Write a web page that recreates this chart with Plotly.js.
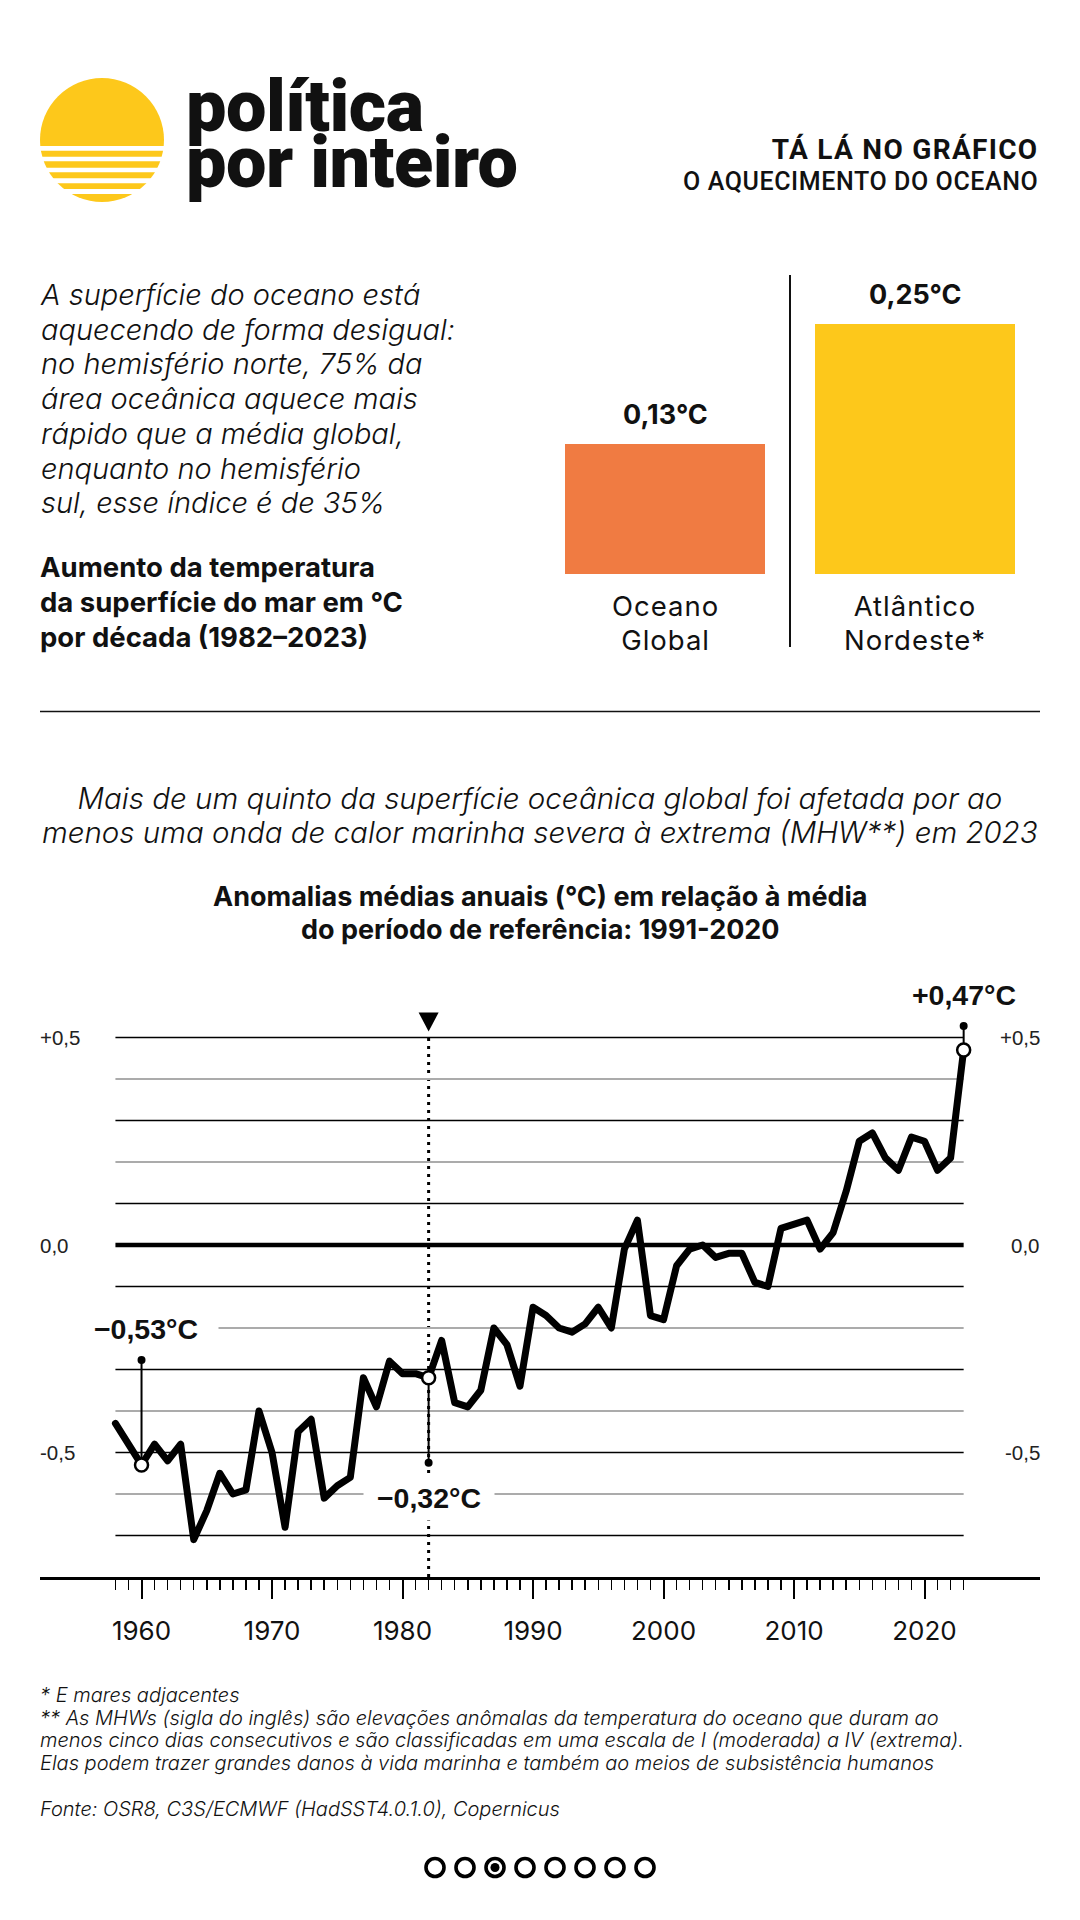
<!DOCTYPE html>
<html>
<head>
<meta charset="utf-8">
<script src="https://cdn.plot.ly/plotly-3.0.1.min.js"></script>
<style>
html,body{margin:0;padding:0;background:#fff;}
#chart{width:1080px;height:1920px;}
#chart .scatterlayer .js-line{stroke-linejoin:round;stroke-linecap:round;}
</style>
</head>
<body>
<div id="chart"></div>
<script>
// ---------------- DATA ----------------
const years = [1958,1959,1960,1961,1962,1963,1964,1965,1966,1967,1968,1969,1970,1971,1972,1973,1974,1975,1976,1977,1978,1979,1980,1981,1982,1983,1984,1985,1986,1987,1988,1989,1990,1991,1992,1993,1994,1995,1996,1997,1998,1999,2000,2001,2002,2003,2004,2005,2006,2007,2008,2009,2010,2011,2012,2013,2014,2015,2016,2017,2018,2019,2020,2021,2022,2023];
const anomalies = [-0.43,-0.48,-0.53,-0.48,-0.52,-0.48,-0.71,-0.64,-0.55,-0.60,-0.59,-0.40,-0.50,-0.68,-0.45,-0.42,-0.61,-0.58,-0.56,-0.32,-0.39,-0.28,-0.31,-0.31,-0.32,-0.23,-0.38,-0.39,-0.35,-0.20,-0.24,-0.34,-0.15,-0.17,-0.20,-0.21,-0.19,-0.15,-0.20,-0.01,0.06,-0.17,-0.18,-0.05,-0.01,0.00,-0.03,-0.02,-0.02,-0.09,-0.10,0.04,0.05,0.06,-0.01,0.03,0.13,0.25,0.27,0.21,0.18,0.26,0.25,0.18,0.21,0.47];

const barCategories = ['Oceano Global', 'Atlântico Nordeste*'];
const barCategoryLines = [['Oceano', 'Global'], ['Atlântico', 'Nordeste*']];
const barValues = [0.13, 0.25];
const barLabels = ['0,13°C', '0,25°C'];
const barColors = ['#F07B42', '#FDC81B'];

const decadeTicks = [1960, 1970, 1980, 1990, 2000, 2010, 2020];
const decadeLabels = ['1960', '1970', '1980', '1990', '2000', '2010', '2020'];
const yLabelVals = [0.5, 0, -0.5];
const yLabelText = ['+0,5', '0,0', '-0,5'];
const gridVals = [0.5, 0.4, 0.3, 0.2, 0.1, 0, -0.1, -0.2, -0.3, -0.4, -0.5, -0.6, -0.7];

const refYear = 1982;
const calloutYears = [1960, 1982, 2023];
const calloutValues = [-0.53, -0.32, 0.47];
const calloutText = ['−0,53°C', '−0,32°C', '+0,47°C'];

const pages = [1, 2, 3, 4, 5, 6, 7, 8];
const activePage = 3;

const logoLines = ['política', 'por inteiro'];
const headerLines = ['TÁ LÁ NO GRÁFICO', 'O AQUECIMENTO DO OCEANO'];
const introLines = ['A superfície do oceano está', 'aquecendo de forma desigual:', 'no hemisfério norte, 75% da', 'área oceânica aquece mais', 'rápido que a média global,', 'enquanto no hemisfério', 'sul, esse índice é de 35%'];
const barTitleLines = ['Aumento da temperatura', 'da superfície do mar em °C', 'por década (1982–2023)'];
const subtitleLines = ['Mais de um quinto da superfície oceânica global foi afetada por ao', 'menos uma onda de calor marinha severa à extrema (MHW**) em 2023'];
const chartTitleLines = ['Anomalias médias anuais (°C) em relação à média', 'do período de referência: 1991-2020'];
const noteLines = ['* E mares adjacentes', '** As MHWs (sigla do inglês) são elevações anômalas da temperatura do oceano que duram ao', 'menos cinco dias consecutivos e são classificadas em uma escala de I (moderada) a IV (extrema).', 'Elas podem trazer grandes danos à vida marinha e também ao meios de subsistência humanos'];
const sourceLine = 'Fonte: OSR8, C3S/ECMWF (HadSST4.0.1.0), Copernicus';

// ---------------- LAYOUT HELPERS ----------------
const W = 1080, H = 1920;
const X = px => px / W;
const Y = py => 1 - py / H;
const BODY = 'Inter, "Open Sans", Roboto, sans-serif';
const HEAD = 'Roboto, Inter, sans-serif';
const HELV = '"Liberation Sans", Arial, sans-serif';

// one annotation per text block; line pitch set through the base font size (Plotly uses 1.3em per <br>)
function span(t, st) {
  let css = 'font-size:' + st.size + 'px';
  if (st.weight) css += ';font-weight:' + st.weight;
  if (st.ls) css += ';letter-spacing:' + st.ls + 'px';
  return '<span style="' + css + '">' + t + '</span>';
}
function textBlock(lines, xpx, base0, step, o) {
  const styles = lines.map((t, i) => (o.lineStyles ? o.lineStyles[i] : {size: o.size, ls: o.ls}));
  const asc = o.asc || 0.969;
  const anchor = o.anchor || 'left';
  let xx = xpx;
  if (anchor === 'left') xx = xpx - 2;
  if (anchor === 'right') xx = xpx + 2;
  return {
    xref: 'paper', yref: 'paper', x: X(xx), y: Y(base0 - asc * styles[0].size - 2),
    xanchor: anchor, yanchor: 'top', showarrow: false, align: anchor === 'center' ? 'center' : anchor,
    text: lines.map((t, i) => span(t, styles[i])).join('<br>'),
    font: {family: o.family || BODY, size: step / 1.3, color: o.color || '#111', weight: o.weight || 400, style: o.style || 'normal'}
  };
}

// line chart geometry (pixels)
const LC = {left: 40, right: 1040, top: 996, bottom: 1577};
const lcX = [1952.22, 2028.85];
const lcY = [-0.8, 0.6];
const PX_PER_UNIT = (LC.bottom - LC.top) / (lcY[1] - lcY[0]);
// bar chart geometry
const BC = {left: 540, right: 1040, top: 274, bottom: 574};
const bcY = [0, 0.3];

const annotations = [];
const shapes = [];

// ---- logo ----
shapes.push({type: 'circle', xref: 'paper', yref: 'paper', x0: X(40), x1: X(164), y0: Y(202), y1: Y(78), fillcolor: '#FDC81B', line: {width: 0}});
[[146, 150.7], [156.7, 161.3], [167.7, 172.3], [178.3, 183.3], [189, 194]].forEach(s => {
  shapes.push({type: 'rect', xref: 'paper', yref: 'paper', x0: X(36), x1: X(168), y0: Y(s[1]), y1: Y(s[0]), fillcolor: '#fff', line: {width: 0}});
});
annotations.push(textBlock(logoLines, 186, 131, 56, {family: HEAD, weight: 900, asc: 0.928,
  lineStyles: [{size: 72, ls: -0.5}, {size: 72, ls: -0.5}]}));
annotations.push(textBlock(headerLines, 1038, 159, 30.5, {family: HEAD, anchor: 'right', asc: 0.928,
  lineStyles: [{size: 28, weight: 700, ls: 1.3}, {size: 25, weight: 500, ls: 0.6}]}));

// ---- intro text ----
annotations.push(textBlock(introLines, 40, 305, 34.7, {size: 29, style: 'italic', weight: 300}));
annotations.push(textBlock(barTitleLines, 40, 577, 35, {size: 27.5, weight: 700}));

// ---- bar chart labels ----
barCategories.forEach((c, i) => {
  annotations.push({xref: 'x2', yref: 'y2', x: c, y: barValues[i], text: barLabels[i], showarrow: false, yanchor: 'bottom', yshift: 11,
    font: {family: BODY, size: 27, weight: 700, color: '#111'}});
  annotations.push({xref: 'x2', yref: 'y2', x: c, y: 0, showarrow: false, yanchor: 'top', yshift: -12.5, align: 'center',
    text: barCategoryLines[i].map(t => span(t, {size: 27.5, ls: 1.0})).join('<br>'),
    font: {family: BODY, size: 33.6 / 1.3, weight: 400, color: '#111'}});
});
shapes.push({type: 'line', xref: 'paper', yref: 'paper', x0: X(790), x1: X(790), y0: Y(647), y1: Y(275), line: {color: '#111', width: 2}});
shapes.push({type: 'line', xref: 'paper', yref: 'paper', x0: X(40), x1: X(1040), y0: Y(711.5), y1: Y(711.5), line: {color: '#111', width: 1.5}});

// ---- subtitle / title ----
annotations.push(textBlock(subtitleLines, 540, 809, 34, {size: 29.5, style: 'italic', weight: 300, anchor: 'center'}));
annotations.push(textBlock(chartTitleLines, 540, 906, 33, {size: 27, weight: 700, anchor: 'center'}));

// ---- line chart decorations ----
shapes.push({type: 'line', xref: 'x', yref: 'y', x0: refYear, x1: refYear, y0: lcY[0], y1: gridVals[0], line: {color: '#000', width: 3, dash: '3px,5px'}, layer: 'below'});
gridVals.forEach(v => {
  const k = Math.round(v * 10);
  let color = '#ababab', width = 2;
  if (k === 0) { color = '#000'; width = 4.5; }
  else if (Math.abs(k) % 2 === 1) { color = '#000'; width = 1.4; }
  shapes.push({type: 'line', xref: 'x', yref: 'y', x0: years[0], x1: years[years.length - 1], y0: v, y1: v, line: {color: color, width: width}, layer: 'below'});
});
shapes.push({type: 'path', xref: 'x', yref: 'y', xsizemode: 'pixel', ysizemode: 'pixel', xanchor: refYear, yanchor: gridVals[0],
  path: 'M -10 25 L 10 25 L 0 6 Z', fillcolor: '#000', line: {width: 0}});

yLabelVals.forEach((v, i) => {
  annotations.push({xref: 'paper', yref: 'y', x: X(38), y: v, xanchor: 'left', yanchor: 'middle', text: yLabelText[i], showarrow: false,
    font: {family: HELV, size: 20.5, color: '#222'}});
  annotations.push({xref: 'paper', yref: 'y', x: X(1042), y: v, xanchor: 'right', yanchor: 'middle', text: yLabelText[i], showarrow: false,
    font: {family: HELV, size: 20.5, color: '#222'}});
});

// callouts
const calloutLenPx = [105, -85, 24];
const calloutWidths = [132, 118, 116];
const calloutEnds = calloutValues.map((v, i) => v + calloutLenPx[i] / PX_PER_UNIT);
calloutYears.forEach((yr, i) => {
  const up = calloutLenPx[i] > 0;
  annotations.push({xref: 'x', yref: 'y', x: yr, y: calloutEnds[i], text: calloutText[i], showarrow: false,
    yanchor: up ? 'bottom' : 'top', yshift: up ? 8 : -12, xshift: i === 0 ? 4 : 0,
    bgcolor: '#fff', borderpad: 6, width: calloutWidths[i], align: 'center',
    font: {family: HELV, size: 28.5, weight: 700, color: '#111'}});
});

// ---- footnotes ----
annotations.push(textBlock(noteLines, 40, 1702, 22.5, {size: 20, style: 'italic', weight: 300}));
annotations.push(textBlock([sourceLine], 40, 1816, 22.5, {size: 20, style: 'italic', weight: 300}));

// ---------------- TRACES ----------------
const traces = [];
traces.push({type: 'bar', x: barCategories, y: barValues, xaxis: 'x2', yaxis: 'y2', marker: {color: barColors, line: {width: 0}}, hoverinfo: 'skip'});
traces.push({type: 'scatter', mode: 'lines', x: years, y: anomalies, xaxis: 'x', yaxis: 'y', line: {color: '#000', width: 7}, hoverinfo: 'skip'});
calloutYears.forEach((yr, i) => {
  traces.push({type: 'scatter', mode: 'lines', x: [yr, yr], y: [calloutValues[i], calloutEnds[i]], line: {color: '#000', width: 2}, hoverinfo: 'skip'});
});
traces.push({type: 'scatter', mode: 'markers', x: calloutYears, y: calloutEnds, marker: {size: 8, color: '#000'}, hoverinfo: 'skip'});
traces.push({type: 'scatter', mode: 'markers', x: calloutYears, y: calloutValues, marker: {size: 13, color: '#fff', line: {color: '#000', width: 2.5}}, hoverinfo: 'skip'});
// pagination
traces.push({type: 'scatter', mode: 'markers', x: pages, y: pages.map(() => 0.5), xaxis: 'x3', yaxis: 'y3',
  marker: {symbol: 'circle-open', size: 18, color: '#000', line: {width: 3.6, color: '#000'}}, hoverinfo: 'skip'});
traces.push({type: 'scatter', mode: 'markers', x: [activePage], y: [0.5], xaxis: 'x3', yaxis: 'y3',
  marker: {symbol: 'circle', size: 9, color: '#000'}, hoverinfo: 'skip'});

// ---------------- LAYOUT ----------------
const layout = {
  width: W, height: H,
  margin: {l: 0, r: 0, t: 0, b: 0, pad: 0},
  paper_bgcolor: '#fff', plot_bgcolor: 'rgba(0,0,0,0)',
  showlegend: false, hovermode: false, bargap: 0.2,
  xaxis: {
    domain: [X(LC.left), X(LC.right)], range: lcX, anchor: 'y',
    showgrid: false, zeroline: false, showline: true, linecolor: '#000', linewidth: 3,
    ticks: 'outside', tickvals: decadeTicks, ticktext: decadeLabels, ticklen: 19, tickwidth: 2, tickcolor: '#000',
    ticklabelstandoff: 10,
    tickfont: {family: BODY, size: 26, color: '#111'},
    minor: {tickvals: years, ticks: 'outside', ticklen: 10, tickwidth: 1.5, tickcolor: '#000', showgrid: false}
  },
  yaxis: {
    domain: [Y(LC.bottom), Y(LC.top)], range: lcY, anchor: 'x',
    showgrid: false, zeroline: false, showline: false, showticklabels: false, ticks: ''
  },
  xaxis2: {
    domain: [X(BC.left), X(BC.right)], range: [-0.5, 1.5], type: 'category', anchor: 'y2',
    showgrid: false, zeroline: false, showline: false, showticklabels: false, ticks: ''
  },
  yaxis2: {
    domain: [Y(BC.bottom), Y(BC.top)], range: bcY, anchor: 'x2',
    showgrid: false, zeroline: false, showline: false, showticklabels: false, ticks: ''
  },
  xaxis3: {
    domain: [X(420), X(660)], range: [0.5, 8.5], anchor: 'y3',
    showgrid: false, zeroline: false, showline: false, showticklabels: false, ticks: ''
  },
  yaxis3: {
    domain: [Y(1900), Y(1835)], range: [0, 1], anchor: 'x3',
    showgrid: false, zeroline: false, showline: false, showticklabels: false, ticks: ''
  },
  shapes: shapes,
  annotations: annotations
};

Plotly.newPlot('chart', traces, layout, {staticPlot: true, displayModeBar: false});
</script>
</body>
</html>
